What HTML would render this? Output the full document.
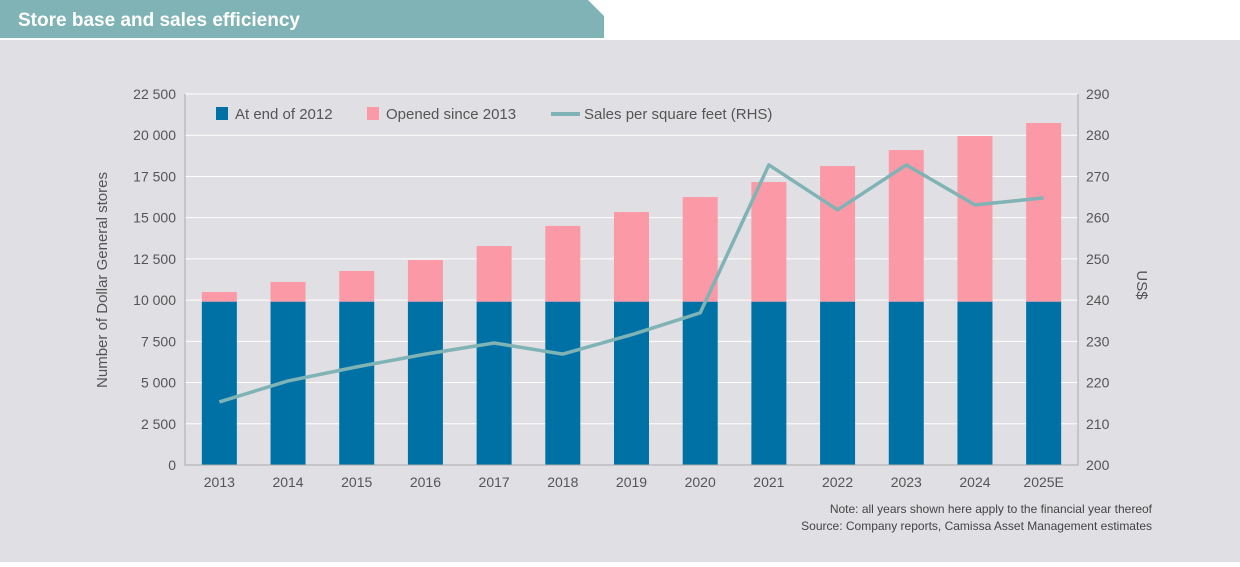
<!DOCTYPE html>
<html><head><meta charset="utf-8"><style>
body{margin:0;width:1240px;height:562px;overflow:hidden;background:#fff;font-family:"Liberation Sans",sans-serif}
</style></head><body>
<svg width="1240" height="562" xmlns="http://www.w3.org/2000/svg" id="svg">
<rect x="0" y="40" width="1240" height="522" fill="#e0dfe3"/>
<polygon points="0,0 588,0 604,16 604,38 0,38" fill="#7fb3b5"/>
<text x="18" y="26" font-size="19" font-weight="bold" fill="#fff">Store base and sales efficiency</text>
<g id="grid"></g><g id="bars"></g><g id="line"></g><g id="axes"></g>
<g font-size="15" fill="#555">
<rect x="216" y="107" width="12" height="13" fill="#0071a4"/>
<text x="235" y="119">At end of 2012</text>
<rect x="367" y="107" width="12" height="13" fill="#fb9aa6"/>
<text x="386" y="119">Opened since 2013</text>
<line x1="551" y1="114" x2="580" y2="114" stroke="#7fb3b5" stroke-width="4"/>
<text x="584" y="119">Sales per square feet (RHS)</text>
</g>
<text transform="translate(107,280) rotate(-90)" text-anchor="middle" font-size="15" fill="#555">Number of Dollar General stores</text>
<text transform="translate(1137,285) rotate(90)" text-anchor="middle" font-size="15" fill="#555">US$</text>
<text x="1152" y="513" text-anchor="end" font-size="12" fill="#444">Note: all years shown here apply to the financial year thereof</text>
<text x="1152" y="530" text-anchor="end" font-size="12" fill="#444">Source: Company reports, Camissa Asset Management estimates</text>
</svg>
<script>
const categories=["2013","2014","2015","2016","2017","2018","2019","2020","2021","2022","2023","2024","2025E"];
const baseStores=[9900,9900,9900,9900,9900,9900,9900,9900,9900,9900,9900,9900,9900];
const totalStores=[10490,11100,11765,12430,13280,14500,15340,16250,17160,18130,19100,19950,20740];
const salesPerSqFt=[215.3,220.4,223.8,226.9,229.6,226.9,231.6,236.9,272.8,261.9,272.8,263.1,264.8];
const leftTicks=[0,2500,5000,7500,10000,12500,15000,17500,20000,22500];
const rightTicks=[200,210,220,230,240,250,260,270,280,290];
const NS="http://www.w3.org/2000/svg";
const X0=185,X1=1078,Y0=465,Y1=94;
const yL=v=>Y0-(v/22500)*(Y0-Y1);
const yR=v=>Y0-((v-200)/90)*(Y0-Y1);
const step=(X1-X0)/categories.length;
const xC=i=>X0+step*(i+0.5);
function mk(t,a,p){const e=document.createElementNS(NS,t);for(const k in a)e.setAttribute(k,a[k]);document.getElementById(p).appendChild(e);return e;}
const fmt=v=>v>=1000?Math.floor(v/1000)+" "+String(v%1000).padStart(3,"0"):String(v);
leftTicks.forEach((v,i)=>{
 if(v>0){const g=mk("line",{x1:X0,x2:X1,y1:yL(v),y2:yL(v),stroke:"#fff","stroke-width":1},"grid");
 
 }
 const t=mk("text",{x:176,y:yL(v)+5,"text-anchor":"end","font-size":14,fill:"#555"},"axes");t.textContent=fmt(v);
 
 
});
rightTicks.forEach(v=>{
 const t=mk("text",{x:1086,y:yR(v)+5,"font-size":14,fill:"#555"},"axes");t.textContent=v;
 
 
});
const bw=35;
categories.forEach((c,i)=>{
 const x=xC(i)-bw/2;
 const o=mk("rect",{x:x,y:yL(totalStores[i]),width:bw,height:yL(baseStores[i])-yL(totalStores[i]),fill:"#fb9aa6"},"bars");
 
 
 const b=mk("rect",{x:x,y:yL(baseStores[i]),width:bw,height:Y0-yL(baseStores[i]),fill:"#0071a4"},"bars");
 
 
 const t=mk("text",{x:xC(i),y:487,"text-anchor":"middle","font-size":14,fill:"#555"},"axes");t.textContent=c;
 
 
});
const ax=mk("path",{d:`M${X0},${Y1}V${Y0}H${X1}V${Y1}`,fill:"none",stroke:"#aaa","stroke-width":1},"axes");


const pl=mk("polyline",{points:salesPerSqFt.map((v,i)=>xC(i)+","+yR(v)).join(" "),fill:"none",stroke:"#7fb3b5","stroke-width":3.5,"stroke-linejoin":"round"},"line");


</script>
</body></html>
